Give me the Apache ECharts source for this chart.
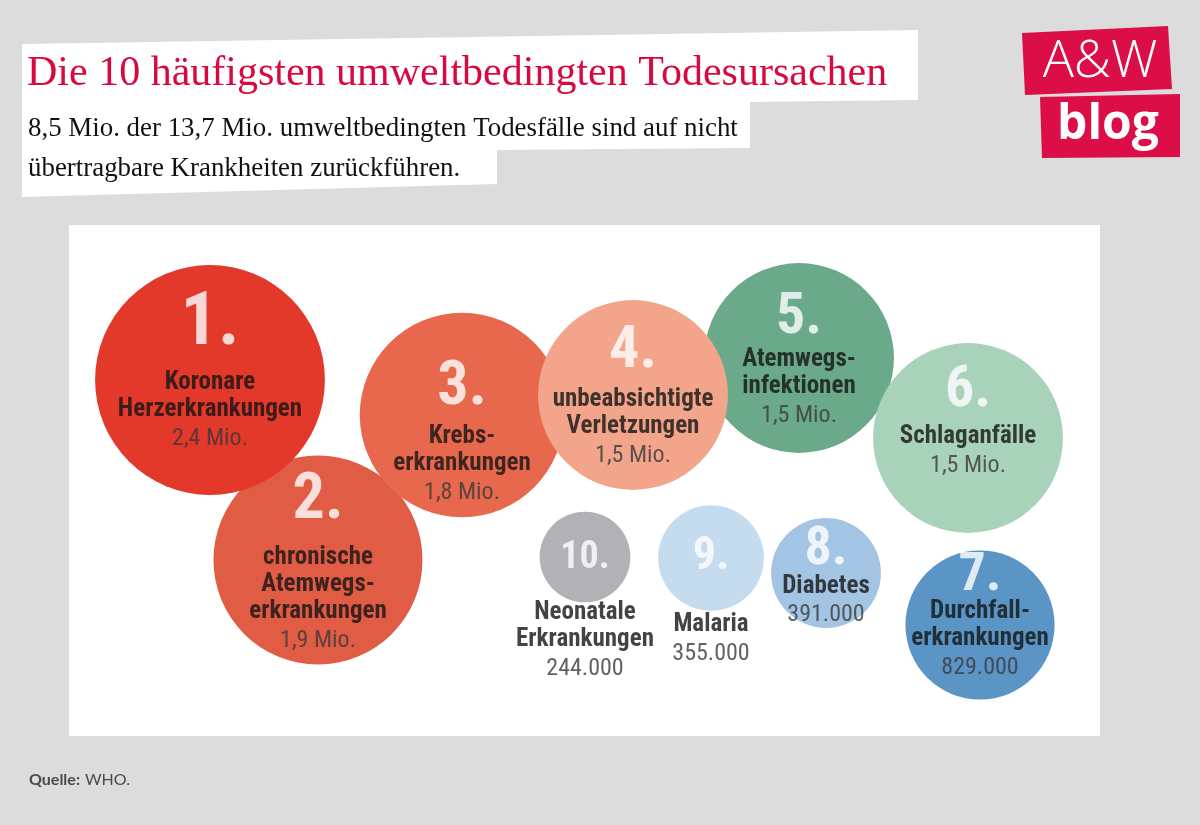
<!DOCTYPE html>
<html><head><meta charset="utf-8">
<script src="https://cdn.jsdelivr.net/npm/echarts@6/dist/echarts.min.js"></script>
<style>html,body{margin:0;padding:0;background:#dcdcdc}#c{width:1200px;height:825px}</style>
</head><body><div id="c"></div><script>
// ---- data ----
const ranks = ['1.','2.','3.','4.','5.','6.','7.','8.','9.','10.'];
const causes = [
  ['Koronare','Herzerkrankungen'],
  ['chronische','Atemwegs-','erkrankungen'],
  ['Krebs-','erkrankungen'],
  ['unbeabsichtigte','Verletzungen'],
  ['Atemwegs-','infektionen'],
  ['Schlaganfälle'],
  ['Durchfall-','erkrankungen'],
  ['Diabetes'],
  ['Malaria'],
  ['Neonatale','Erkrankungen']
];
const deaths = [2400000,1900000,1800000,1500000,1500000,1500000,829000,391000,355000,244000];
const titleText = 'Die 10 häufigsten umweltbedingten Todesursachen';
const subtitleLines = ['8,5 Mio. der 13,7 Mio. umweltbedingten Todesfälle sind auf nicht','übertragbare Krankheiten zurückführen.'];
const sourceLabel = 'Quelle:';
const sourceText = 'WHO.';

// ---- layout & style (bubble packing positions, label tuning) ----
// [cx, cy, numberFontSize, numberLineHeight, labelDy]
const layout = [
  [141,155,74,89,-13],
  [249,335,64,85,-2.5],
  [393,190,62,71,15],
  [564,170,60,69,-1],
  [730,133,58,57,2],
  [899,213,58,65,-18.5],
  [911,400,54,45,-7],
  [757,348,54,45,6],
  [642,333,46,109,27.5],
  [516,332,38,83,43]
];
const colors = ['#e2392b','#e05c45','#e8684e','#f2a58b','#6aa98a','#a9d2ba','#5a95c6','#a3c5e3','#c5dbee','#b1b1b6'];
const drawOrder = [4,1,2,3,0,5,6,7,8,9];
const narrow = "'Liberation Sans Narrow','Roboto Condensed','DejaVu Sans Condensed',Roboto,sans-serif";

function fmt(v){
  if (v >= 1e6) return (v/1e6).toFixed(1).replace('.',',') + ' Mio.';
  return String(v).replace(/\B(?=(\d{3})+(?!\d))/g,'.');
}
function radius(v){ return 80.5 * Math.pow(v/1e6, 0.4065); }

const bubbleData = drawOrder.map(i => ({
  value: [layout[i][0], layout[i][1], deaths[i]],
  itemStyle: { color: colors[i], opacity: 1 }
}));
const labelData = drawOrder.map(i => {
  const L = layout[i];
  const lines = ['{n|' + ranks[i] + '}'].concat(causes[i].map(t => '{t|' + t + '}')).concat(['{v|' + fmt(deaths[i]) + '}']);
  return {
    value: [L[0], L[1], deaths[i]],
    label: {
      show: true, position: 'inside', offset: [0, L[4]],
      formatter: lines.join('\n'),
      rich: {
        n: { fontFamily: narrow, fontWeight: 'bold', fontSize: L[2], lineHeight: L[3], color: '#ffffff', align: 'center' },
        t: { fontFamily: narrow, fontWeight: 'bold', fontSize: 25, lineHeight: 27, color: '#141414', align: 'center' },
        v: { fontFamily: narrow, fontSize: 24, lineHeight: 30, color: '#3a3a3a', align: 'center' }
      }
    }
  };
});

const chart = echarts.init(document.getElementById('c'), null, {renderer:'canvas'});
chart.setOption({
  backgroundColor: '#dcdcdc',
  animation: false,
  grid: { left: 69, top: 225, width: 1031, height: 511 },
  xAxis: { type: 'value', min: 0, max: 1031, show: false },
  yAxis: { type: 'value', min: 0, max: 511, inverse: true, show: false },
  graphic: [
    { type: 'rect', z: 0, shape: { x: 69, y: 225, width: 1031, height: 511 }, style: { fill: '#ffffff' } },
    { type: 'polygon', z: 0, shape: { points: [[22,44],[918,30],[918,100],[750,102],[750,148],[497,150],[497,184],[22,197]] }, style: { fill: '#ffffff' } },
    { type: 'text', z: 1, style: { x: 27, y: 74, text: titleText, fill: '#d9093f', font: "42px 'Liberation Serif','DejaVu Serif',serif", verticalAlign: 'middle' } },
    { type: 'text', z: 1, style: { x: 28, y: 129, text: subtitleLines[0], fill: '#111111', font: "26.9px 'Liberation Serif','DejaVu Serif',serif", verticalAlign: 'middle' } },
    { type: 'text', z: 1, style: { x: 28, y: 169, text: subtitleLines[1], fill: '#111111', font: "26.9px 'Liberation Serif','DejaVu Serif',serif", verticalAlign: 'middle' } },
    { type: 'polygon', z: 0, shape: { points: [[1022,33],[1168,26],[1172,89],[1025,95]] }, style: { fill: '#dc0e47' } },
    { type: 'polygon', z: 0, shape: { points: [[1040,97],[1180,94],[1180,157],[1042,158]] }, style: { fill: '#dc0e47' } },
    { type: 'text', z: 1, style: { x: 1100, y: 62, text: 'A&W', fill: '#ffffff', font: "300 52px 'Open Sans',sans-serif", align: 'center', verticalAlign: 'middle' } },
    { type: 'text', z: 1, style: { x: 1108, y: 125, text: 'blog', fill: '#ffffff', font: "bold 48px 'Open Sans',sans-serif", align: 'center', verticalAlign: 'middle' } },
    { type: 'text', z: 1, style: { x: 29, y: 780, text: sourceLabel, fill: '#4a4a4a', font: "bold 16px Lato,sans-serif", verticalAlign: 'middle' } },
    { type: 'text', z: 1, style: { x: 85, y: 780, text: sourceText, fill: '#4a4a4a', font: "16px Lato,sans-serif", verticalAlign: 'middle' } }
  ],
  series: [
    { type: 'scatter', z: 2, silent: true, data: bubbleData,
      symbolSize: v => 2 * radius(v[2]), label: { show: false } },
    { type: 'scatter', z: 5, silent: true, data: labelData,
      symbolSize: 1, itemStyle: { color: 'transparent' } }
  ]
});
</script></body></html>
